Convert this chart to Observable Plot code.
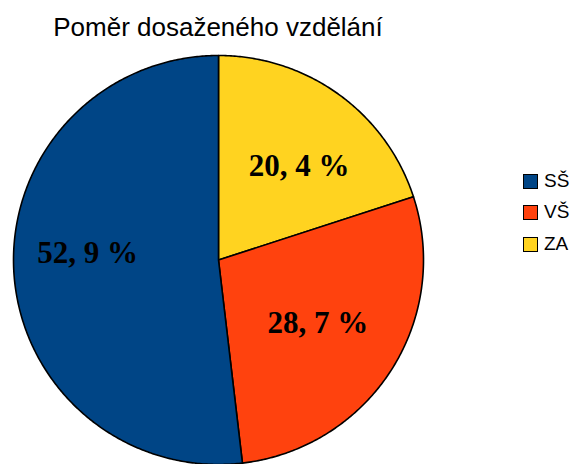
<!DOCTYPE html>
<html>
<head>
<meta charset="utf-8">
<script src="https://cdn.jsdelivr.net/npm/d3@7"></script>
<script src="https://cdn.jsdelivr.net/npm/@observablehq/plot@0.6"></script>
<style>
  html, body { margin: 0; padding: 0; background: #fff; }
  #wrap { position: relative; width: 581px; height: 464px; overflow: hidden; }
  #title { position: absolute; left: 0; width: 436px; top: 12px; text-align: center;
           font-family: "Liberation Sans", Arial, sans-serif; font-size: 26px; line-height: 30px; color: #000; }
  #legend { position: absolute; left: 523px; top: 0; font-family: "Liberation Sans", Arial, sans-serif;
            font-size: 19px; color: #000; }
  .item { position: absolute; left: 0; display: flex; align-items: center; height: 20px; white-space: nowrap; }
  .sw { width: 13px; height: 13px; border: 1px solid #000; margin-right: 6px; box-sizing: content-box; }
  #chart { position: absolute; left: 0; top: 0; }
</style>
</head>
<body>
<div id="wrap">
  <div id="chart"></div>
  <div id="title">Poměr dosaženého vzdělání</div>
  <div id="legend"></div>
</div>
<script>
const categories = ["SŠ", "VŠ", "ZA"];
const shares = [52.9, 28.7, 20.4];
const labels = ["52, 9 %", "28, 7 %", "20, 4 %"];
const colors = ["#004586", "#ff420e", "#ffd320"];

const rows = categories.map((c, i) => ({cat: c, value: shares[i], label: labels[i]}));
// clockwise from 12 o'clock: ZA, VŠ, SŠ
const arcs = d3.pie().sort(null).value(d => d.value)(rows.slice().reverse());

const slicePts = [];
const labelPts = [];
for (const a of arcs) {
  slicePts.push({cat: a.data.cat, x: 0, y: 0});
  const n = Math.max(2, Math.ceil((a.endAngle - a.startAngle) / (Math.PI / 360)));
  for (let k = 0; k <= n; k++) {
    const t = a.startAngle + (a.endAngle - a.startAngle) * k / n;
    slicePts.push({cat: a.data.cat, x: Math.sin(t), y: Math.cos(t)});
  }
  const m = (a.startAngle + a.endAngle) / 2;
  labelPts.push({cat: a.data.cat, label: a.data.label, x: 0.61 * Math.sin(m), y: 0.61 * Math.cos(m)});
}

const textStyle = {x: "x", y: "y", text: "label", fill: "#000", fontSize: 31,
  fontWeight: "bold", fontFamily: "Liberation Serif, Times New Roman, serif", textAnchor: "middle"};

const chart = Plot.plot({
  width: 581,
  height: 464,
  margin: 0,
  x: {domain: [-1, 1], range: [13, 423], axis: null},
  y: {domain: [-1, 1], range: [464, 55], axis: null},
  color: {domain: categories, range: colors},
  style: {background: "transparent"},
  marks: [
    Plot.line(slicePts, {x: "x", y: "y", z: "cat", fill: "cat", stroke: "#000", strokeWidth: 1.6,
      curve: "linear-closed", strokeLinejoin: "round"}),
    Plot.text(labelPts, {...textStyle, filter: d => d.cat === "ZA", dx: 7, dy: 7}),
    Plot.text(labelPts, {...textStyle, filter: d => d.cat === "VŠ", dx: -6, dy: -4}),
    Plot.text(labelPts, {...textStyle, filter: d => d.cat === "SŠ", dx: -6, dy: -14})
  ]
});
document.getElementById("chart").appendChild(chart);

const legend = document.getElementById("legend");
const legendTops = [171, 202, 234];
categories.forEach((c, i) => {
  const it = document.createElement("div");
  it.className = "item";
  it.style.top = legendTops[i] + "px";
  const sw = document.createElement("div");
  sw.className = "sw";
  sw.style.background = colors[i];
  const tx = document.createElement("span");
  tx.textContent = c;
  it.appendChild(sw);
  it.appendChild(tx);
  legend.appendChild(it);
});
</script>
</body>
</html>
